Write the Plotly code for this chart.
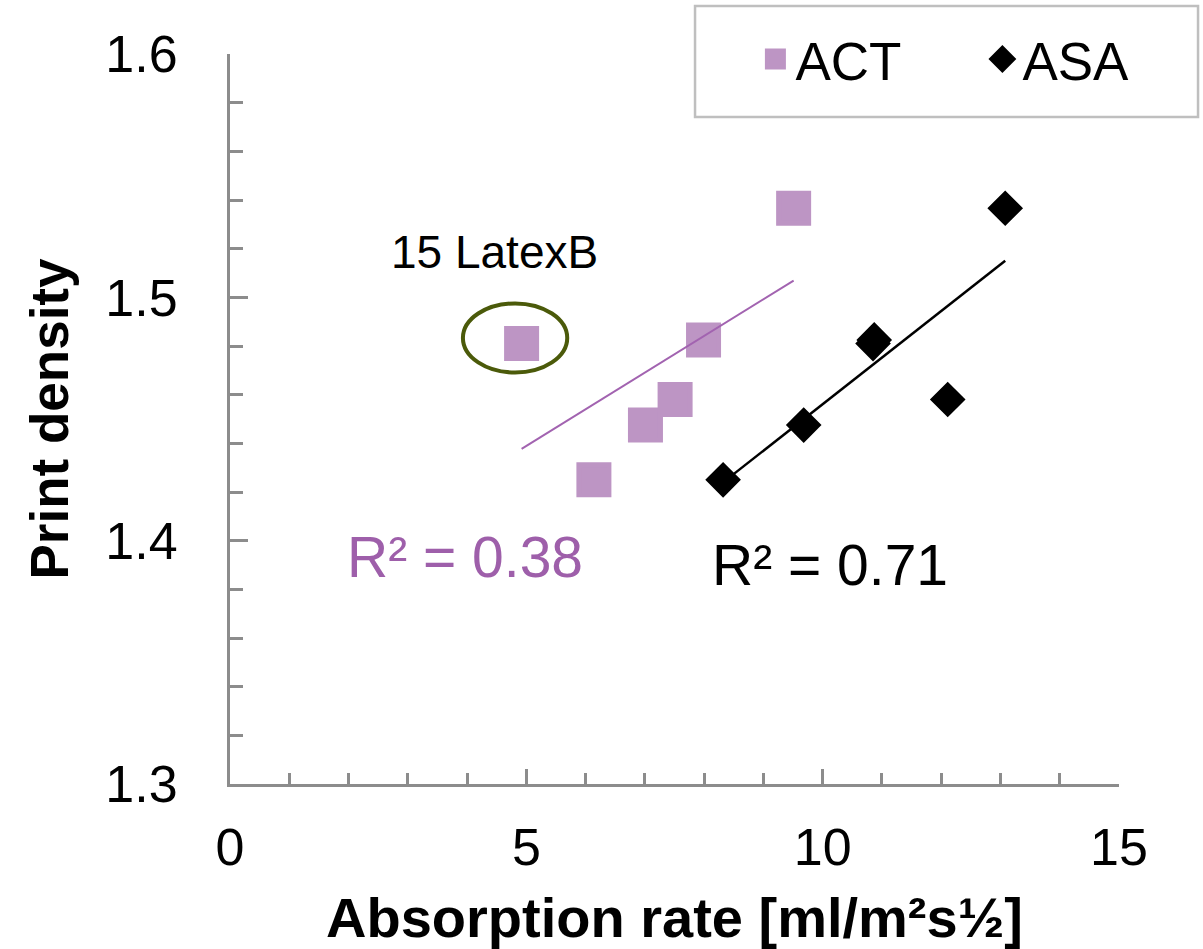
import numpy as np
import plotly.graph_objects as go

# ---- data ----
act_x = [4.92, 6.14, 7.01, 7.51, 7.99, 9.51]
act_y = [1.481, 1.425, 1.4475, 1.458, 1.4825, 1.5366]
asa_x = [8.32, 9.68, 10.85, 10.87, 12.11, 13.08]
asa_y = [1.425, 1.4475, 1.481, 1.4825, 1.458, 1.5366]
series_names = ["ACT", "ASA"]
r2_labels = ["R² = 0.38", "R² = 0.71"]
highlight_label = "15 LatexB"
x_ticks = [0, 5, 10, 15]
y_ticks = [1.3, 1.4, 1.5, 1.6]

ACT_COLOR = "#BD95C4"
ACT_LINE = "#A263B0"
ASA_COLOR = "#000000"
AXIS_COLOR = "#8C8C8C"
FONT = "Arial, Liberation Sans, sans-serif"


def trend(xs, ys):
    k, b = np.polyfit(xs, ys, 1)
    xx = np.array([min(xs), max(xs)])
    return xx, k * xx + b


fig = go.Figure()
fig.add_trace(go.Scatter(
    x=act_x, y=act_y, mode="markers", name=series_names[0],
    marker=dict(symbol="square", size=30, color=ACT_COLOR,
                line=dict(color=ACT_COLOR, width=5)),
))
fig.add_trace(go.Scatter(
    x=asa_x, y=asa_y, mode="markers", name=series_names[1],
    marker=dict(symbol="diamond", size=22, color=ASA_COLOR,
                line=dict(color=ASA_COLOR, width=5)),
))
tx, ty = trend(act_x, act_y)
fig.add_trace(go.Scatter(x=tx, y=ty, mode="lines", showlegend=False,
                         line=dict(color=ACT_LINE, width=2), hoverinfo="skip"))
tx, ty = trend(asa_x, asa_y)
fig.add_trace(go.Scatter(x=tx, y=ty, mode="lines", showlegend=False,
                         line=dict(color=ASA_COLOR, width=2.5), hoverinfo="skip"))

axis_common = dict(
    showline=True, linecolor=AXIS_COLOR, linewidth=3, mirror=False,
    showgrid=False, zeroline=False, ticks="inside", tickcolor=AXIS_COLOR,
    tickwidth=2.5, tickfont=dict(family=FONT, size=52, color="#000000"),
)

fig.update_xaxes(
    range=[0, 15], tickvals=x_ticks, ticklen=15, ticklabelstandoff=16,
    minor=dict(dtick=1, ticks="inside", ticklen=11, tickcolor=AXIS_COLOR, tickwidth=2.5),
    title=dict(text="<b>Absorption rate [ml/m²s½]</b>", standoff=28,
               font=dict(family=FONT, size=56, color="#000000")),
    **axis_common,
)
fig.update_yaxes(
    range=[1.3, 1.6], tickvals=y_ticks, tickformat=".1f", ticklen=18,
    ticklabelstandoff=39,
    minor=dict(dtick=0.02, ticks="inside", ticklen=13, tickcolor=AXIS_COLOR, tickwidth=2.5),
    title=dict(text="<b>Print density</b>", standoff=20,
               font=dict(family=FONT, size=53, color="#000000")),
    **axis_common,
)

# highlight ellipse around the 15 LatexB point
fig.add_shape(type="circle", xref="x", yref="y", x0=3.93, x1=5.69, y0=1.4691, y1=1.4975,
              line=dict(color="#4B5A0A", width=4))
# legend frame
fig.add_shape(type="rect", xref="paper", yref="paper", x0=0.5231, x1=1.0889,
              y0=0.9136, y1=1.0658, line=dict(color="#BFBFBF", width=2.5),
              fillcolor="rgba(0,0,0,0)")

fig.add_annotation(x=4.47, y=1.5185, xref="x", yref="y", text=highlight_label,
                   showarrow=False, font=dict(family=FONT, size=46, color="#000000"))
fig.add_annotation(x=3.97, y=1.3931, xref="x", yref="y", text=r2_labels[0],
                   showarrow=False, font=dict(family=FONT, size=57, color="#9E5FAA"))
fig.add_annotation(x=10.12, y=1.3902, xref="x", yref="y", text=r2_labels[1],
                   showarrow=False, font=dict(family=FONT, size=57, color="#000000"))

fig.update_layout(
    width=1203, height=949,
    margin=dict(l=230, r=84, t=54, b=165, autoexpand=False),
    paper_bgcolor="white", plot_bgcolor="white",
    showlegend=True,
    legend=dict(orientation="h", x=0.591, y=0.993, xanchor="left", yanchor="middle",
                bgcolor="rgba(0,0,0,0)", borderwidth=0, entrywidth=182,
                font=dict(family=FONT, size=53, color="#000000")),
)

fig.write_html("out.html")
